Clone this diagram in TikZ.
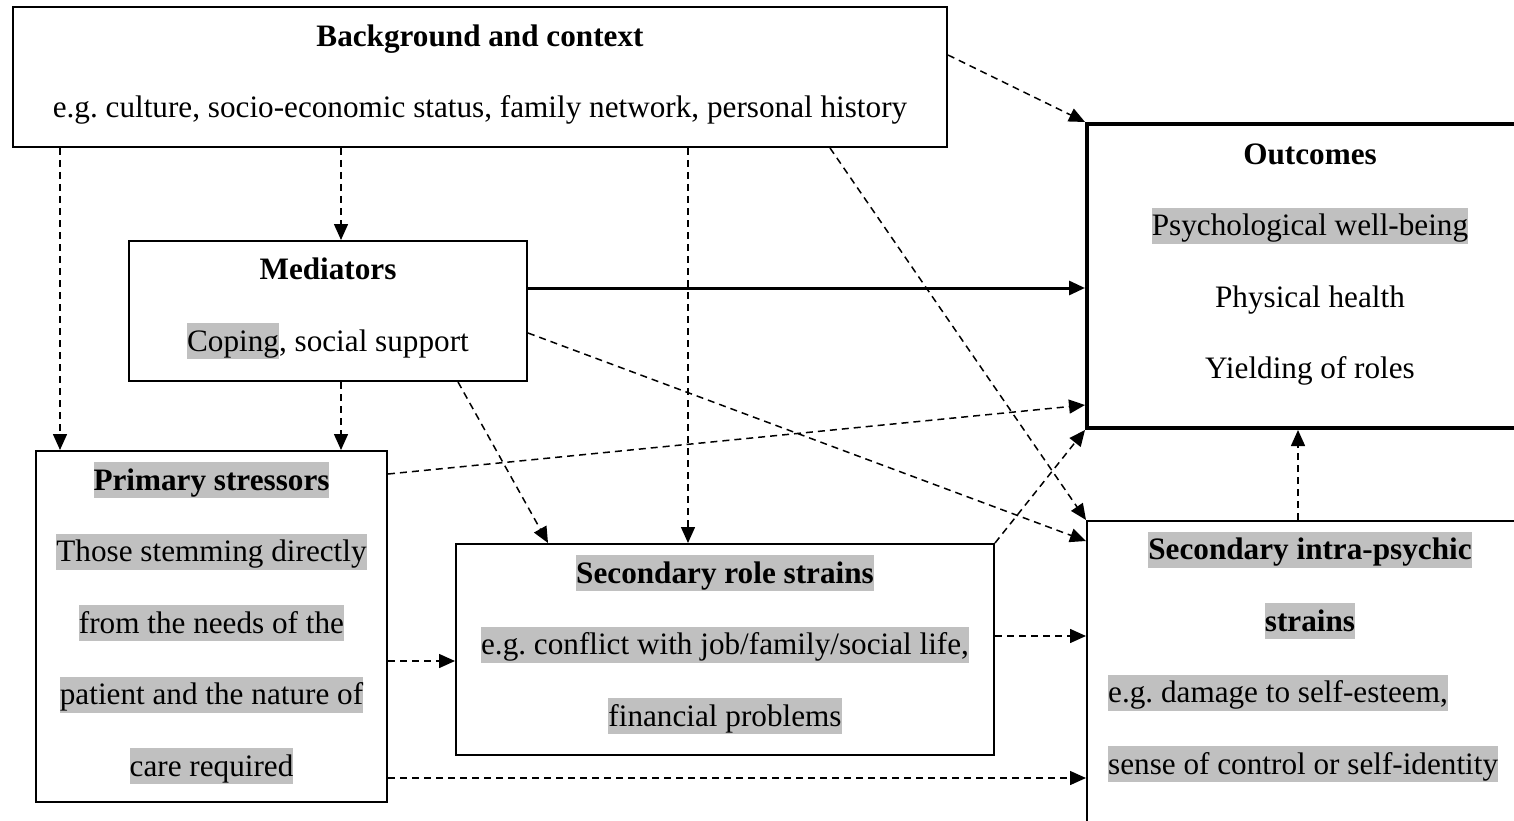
\documentclass[tikz,border=0pt]{standalone}
\usepackage{fontspec}
\setmainfont{Liberation Serif}
\usetikzlibrary{arrows.meta}
\frenchspacing

\definecolor{hlgray}{HTML}{C0C0C0}
\newcommand{\sst}{\vrule height 28pt depth 8pt width 0pt}
\newcommand{\hl}[1]{{\setlength{\fboxsep}{0pt}\colorbox{hlgray}{\sst#1}}}

\begin{document}
\begin{tikzpicture}[x=1pt,y=-1pt,
    box/.style={draw,rectangle,line width=2pt,inner sep=0pt},
    txt/.style={inner sep=0pt,align=center,font=\fontsize{31.2}{71.5}\selectfont},
    dep/.style={dash pattern=on 7pt off 5pt,line width=1.5pt,-{Triangle[length=16pt,width=14pt]}}]
      \clip (0,0) rectangle (1514,821);
      \fill[white] (0,0) rectangle (1514,821);
      \begin{scope}[every node/.style=box]
        \node[minimum width=934,minimum height=140] (bg) at (480,77) {};
        \node[minimum width=398,minimum height=140] (med) at (328,311) {};
        \node[minimum width=351,minimum height=351] (prim) at (211.5,626.5) {};
        \node[minimum width=538,minimum height=211] (role) at (725,649.5) {};
        \node[line width=4pt,minimum width=513,minimum height=304] (outc) at (1343.5,276) {};
        \node[minimum width=513,minimum height=358] (intra) at (1343.5,700) {};
      \end{scope}
      \begin{scope}[every node/.style=txt]
        \node (bgtxt) at (480,72) {\sst\textbf{Background and context}\\
          \sst e.g. culture, socio-economic status, family network, personal history};
        \node (medtxt) at (328,305.5) {\sst\textbf{Mediators}\\\hl{Coping}, social support};
        \node (primtxt) at (211.5,623) {\textbf{\hl{Primary stressors}}\\\hl{Those stemming directly}\\
          \hl{from the needs of the}\\\hl{patient and the nature of}\\\hl{care required}};
        \node (roletxt) at (725,644.5) {\textbf{\hl{Secondary role strains}}\\
          \hl{e.g. conflict with job/family/social life,}\\\hl{financial problems}};
        \node (outctxt) at (1310,261.5) {\sst\textbf{Outcomes}\\\hl{Psychological well-being}\\
          \sst Physical health\\\sst Yielding of roles};
        \node (intratxt) at (1310,585.5) {\textbf{\hl{Secondary intra-psychic}}\\\textbf{\hl{strains}}};
        \node[align=left,anchor=west] (intraeg) at (1108,728.5) {\hl{e.g. damage to self-esteem,}\\
          \hl{sense of control or self-identity}};
      \end{scope}
      \begin{scope}[every edge/.style={draw,dep}]
        \path (bg.east |- 0,55) edge (outc.north west);
        \path (bg.south -| 60,0) edge (prim.north -| 60,0);
        \path (bg.south -| 341,0) edge (med.north -| 341,0);
        \path (bg.south -| 688,0) edge (role.north -| 688,0);
        \path (bg.south -| 830,0) edge (intra.north west);
        \path (med.east |- 0,288) edge[solid,line width=3pt] (outc.west |- 0,288);
        \path (med.east |- 0,333) edge (intra.west |- 0,541);
        \path (med.south -| 341,0) edge (prim.north -| 341,0);
        \path (med.south -| 458,0) edge (role.north -| 548,0);
        \path (prim.east |- 0,474) edge (outc.west |- 0,405);
        \path (role.north east) edge (outc.south west);
        \path (prim.east |- 0,661) edge (role.west |- 0,661);
        \path (prim.east |- 0,778) edge (intra.west |- 0,778);
        \path (role.east |- 0,636) edge (intra.west |- 0,636);
        \path (intra.north -| 1298,0) edge (outc.south -| 1298,0);
      \end{scope}
    \end{tikzpicture}
\end{document}
